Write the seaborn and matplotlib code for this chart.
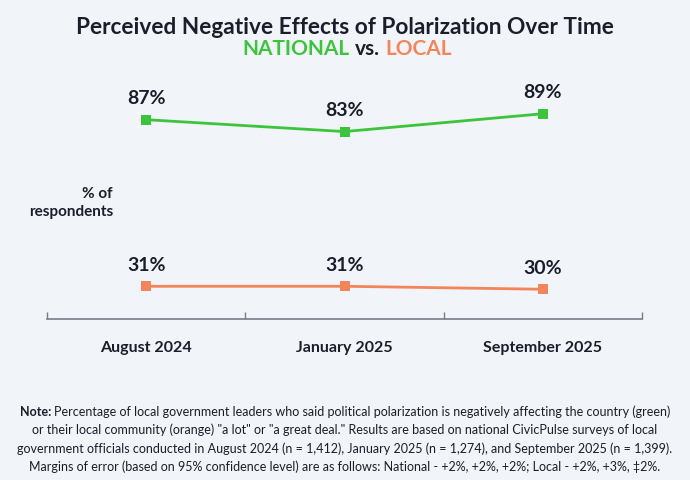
import matplotlib
matplotlib.use("Agg")
import matplotlib.pyplot as plt
import seaborn as sns
import pandas as pd

# ---- data ----
dates = ["August 2024", "January 2025", "September 2025"]
national = [87, 83, 89]
local = [31, 31, 30]

BG = "#f1f4f8"
GREEN = "#3cc43c"
ORANGE = "#f4845a"
DARK = "#1c1d2b"

sns.set_theme(style="white")
plt.rcParams['font.family'] = ['Lato', 'DejaVu Sans']

df = pd.DataFrame({
    "date": dates * 2,
    "value": national + local,
    "series": ["National"] * 3 + ["Local"] * 3,
})

fig = plt.figure(figsize=(6.9, 4.8), dpi=100, facecolor=BG)
ax = fig.add_axes([47 / 690, 1 - 319 / 480, (642 - 47) / 690, (319 - 81) / 480])
ax.set_facecolor(BG)

sns.lineplot(data=df, x="date", y="value", hue="series",
             palette={"National": GREEN, "Local": ORANGE},
             marker="s", markersize=7, markeredgewidth=0, linewidth=2,
             legend=False, ax=ax, sort=False)

ax.set_xlim(-0.5, 2.5)
ax.set_ylim(20, 100)
for s in ["top", "right", "left"]:
    ax.spines[s].set_visible(False)
ax.spines["bottom"].set_color("#7a7d85")
ax.spines["bottom"].set_linewidth(1.2)
ax.set_yticks([])
ax.set_xticks([-0.5, 0.5, 1.5, 2.5], minor=False)
ax.set_xticklabels([])
ax.tick_params(axis="x", direction="in", length=5, width=1, color="#7a7d85", bottom=True)
ax.set_xlabel("")
ax.set_ylabel("")

# category labels
for i, d in enumerate(dates):
    ax.annotate(d, xy=(i, 0), xycoords=("data", "axes fraction"),
                xytext=(0, -21), textcoords="offset points",
                ha="center", va="center", fontsize=11.5, fontweight="bold", color=DARK)

# value labels
for vals in (national, local):
    for i, v in enumerate(vals):
        ax.annotate(f"{v}%", xy=(i, v), xytext=(0, 15), textcoords="offset points",
                    ha="center", va="center", fontsize=14, fontweight="bold", color=DARK)

fig.text(113 / 690, 1 - 203 / 480, "% of\nrespondents", ha="right", va="center",
         fontsize=11, fontweight="bold", color=DARK, linespacing=1.4)

# title
fig.text(0.5, 1 - 28 / 480, "Perceived Negative Effects of Polarization Over Time",
         ha="center", va="center", fontsize=16.3, fontweight="bold", color=DARK)
fig.text(349 / 690, 1 - 49 / 480, "NATIONAL", ha="right", va="center",
         fontsize=15, fontweight="bold", color=GREEN)
fig.text(367 / 690, 1 - 49 / 480, "vs.", ha="center", va="center",
         fontsize=15, fontweight="bold", color=DARK)
fig.text(385 / 690, 1 - 49 / 480, "LOCAL", ha="left", va="center",
         fontsize=15, fontweight="bold", color=ORANGE)

# note
note_lines = [
    "Percentage of local government leaders who said political polarization is negatively affecting the country (green)",
    "or their local community (orange) \"a lot\" or \"a great deal.\" Results are based on national CivicPulse surveys of local",
    "government officials conducted in August 2024 (n = 1,412), January 2025 (n = 1,274), and September 2025 (n = 1,399).",
    "Margins of error (based on 95% confidence level) are as follows: National - +2%, +2%, +2%; Local - +2%, +3%, \u20212%.",
]
ys = [412, 430, 449, 467]
fs = 9.0
fig.canvas.draw()
r = fig.canvas.get_renderer()
t_note = fig.text(0, 1 - ys[0] / 480, "Note: ", fontsize=fs, fontweight="bold", color=DARK, va="center")
t_rest = fig.text(0, 1 - ys[0] / 480, note_lines[0], fontsize=fs, color=DARK, va="center")
w1 = t_note.get_window_extent(r).width
w2 = t_rest.get_window_extent(r).width
x0 = (690 - (w1 + w2)) / 2
t_note.set_x(x0 / 690)
t_rest.set_x((x0 + w1) / 690)
for line, y in zip(note_lines[1:], ys[1:]):
    fig.text(0.5, 1 - y / 480, line, ha="center", va="center", fontsize=fs, color=DARK)

fig.savefig("out.png", dpi=100, facecolor=BG)
